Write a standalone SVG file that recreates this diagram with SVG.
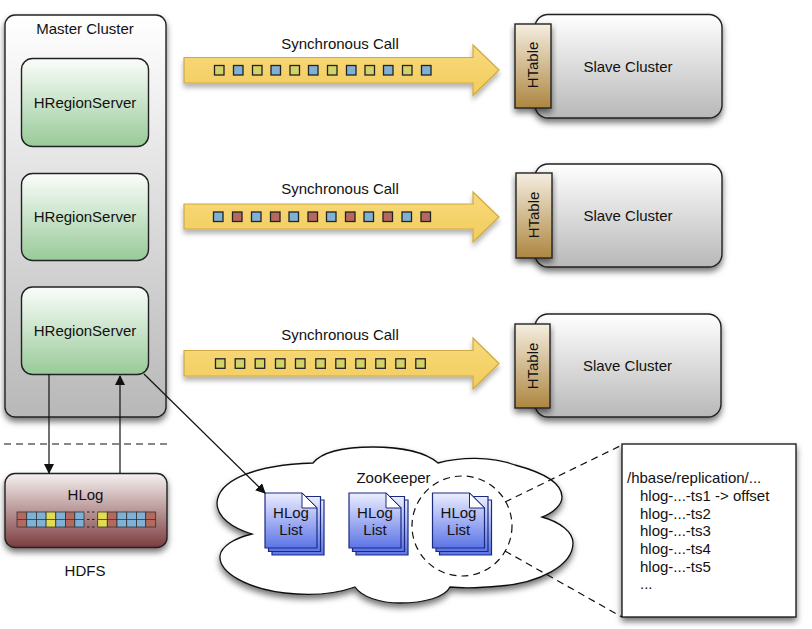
<svg xmlns="http://www.w3.org/2000/svg" xmlns:xlink="http://www.w3.org/1999/xlink" width="812" height="629" viewBox="0 0 812 629">
<style>
text{font-family:"Liberation Sans",Arial,sans-serif;font-size:15px;fill:#111;text-anchor:middle}
.s{text-anchor:start}
.b{stroke:#222;stroke-width:1.4}
.sh{filter:url(#shadow)}
.ln{fill:none;stroke:#111;stroke-width:1.2}
.dash{fill:none;stroke:#111;stroke-width:1.2;stroke-dasharray:7 5}
.ar{fill:url(#gArrow);stroke:#d0a93f;stroke-width:1.2;filter:url(#shadow2)}
.y{fill:#d3d268;stroke:#222;stroke-width:1.3}
.u{fill:#7fb1d6;stroke:#222;stroke-width:1.3}
.r{fill:#b5695e;stroke:#222;stroke-width:1.3}
.cl{stroke:#333;stroke-width:.8}
.ge{fill:#e3dc50}
.gu{fill:#7fb1d6}
.gr{fill:#b5695e}
.doc{fill:url(#gDoc);stroke:#1a2a80;stroke-width:1.2}
.fold{fill:#fff;stroke:#1a2a80;stroke-width:1}
</style>
<defs>
<filter id="shadow" x="-15%" y="-15%" width="130%" height="135%"><feDropShadow dx="0" dy="4" stdDeviation="3" flood-color="#000" flood-opacity=".55"/></filter>
<filter id="shadow2" x="-5%" y="-15%" width="110%" height="140%"><feDropShadow dx="0" dy="4" stdDeviation="2.5" flood-color="#000" flood-opacity=".3"/></filter>
<linearGradient id="gGray" x1="0" y1="0" x2="0" y2="1"><stop offset="0" stop-color="#fff"/><stop offset="1" stop-color="#b8b8b8"/></linearGradient>
<linearGradient id="gGreen" x1="0" y1="0" x2="0" y2="1"><stop offset="0" stop-color="#fbfdfb"/><stop offset="1" stop-color="#98ca98"/></linearGradient>
<linearGradient id="gHlog" x1="0" y1="0" x2="0" y2="1"><stop offset="0" stop-color="#f6f1f1"/><stop offset="1" stop-color="#7c3c3e"/></linearGradient>
<linearGradient id="gTable" x1="0" y1="0" x2="0" y2="1"><stop offset="0" stop-color="#f5eee0"/><stop offset="1" stop-color="#ad8640"/></linearGradient>
<linearGradient id="gArrow" x1="0" y1="0" x2="0" y2="1"><stop offset="0" stop-color="#f8da7c"/><stop offset="1" stop-color="#f2cc5c"/></linearGradient>
<linearGradient id="gDoc" x1="0" y1="0" x2="0" y2="1"><stop offset="0" stop-color="#eceeff"/><stop offset="1" stop-color="#5c74e6"/></linearGradient>
<marker id="tip" markerUnits="userSpaceOnUse" markerWidth="10" markerHeight="12" refX="9" refY="5" orient="auto"><path d="M0 0L10 5L0 10Z" fill="#111"/></marker>
<g id="c1"><rect x="-4.500" y="-4.500" width="9.500" height="9.500"/></g>
<g id="dc"><path class="doc" d="M7 7H59V62H7Z"/><path class="doc" d="M3.500 3.500H55.500V58.500H3.500Z"/><path class="doc" d="M0 0H37L52 15V55H0Z"/><path class="fold" d="M37 0V15H52Z"/></g>
</defs>

<g id="master-cluster"><rect class="b sh" x="5" y="15" width="161" height="402" rx="10" fill="url(#gGray)"/><text x="85" y="34">Master Cluster</text></g>
<g id="hrs-1"><rect class="b" x="21.500" y="58.500" width="127" height="88" rx="11" fill="url(#gGreen)"/><text x="85" y="108">HRegionServer</text></g>
<g id="hrs-2"><rect class="b" x="21.500" y="173.500" width="127" height="87" rx="11" fill="url(#gGreen)"/><text x="85" y="222">HRegionServer</text></g>
<g id="hrs-3"><rect class="b" x="21.500" y="287" width="127" height="87.500" rx="11" fill="url(#gGreen)"/><text x="85" y="335.500">HRegionServer</text></g>

<g id="call-1">
<text x="340" y="48.500">Synchronous Call</text>
<path class="ar" d="M184 57.500H473V45L499 70L473 95.500V83H184Z"/>
<g transform="translate(0,70)"><use href="#c1" x="219" class="y"/><use href="#c1" x="238" class="u"/><use href="#c1" x="257" class="y"/><use href="#c1" x="275.500" class="u"/><use href="#c1" x="294.500" class="y"/><use href="#c1" x="313" class="u"/><use href="#c1" x="332" class="y"/><use href="#c1" x="351" class="u"/><use href="#c1" x="369.500" class="y"/><use href="#c1" x="388" class="u"/><use href="#c1" x="407" class="y"/><use href="#c1" x="426" class="u"/></g>
</g>
<g id="call-2">
<text x="340" y="193.500">Synchronous Call</text>
<path class="ar" d="M184 204H473V192L499 217L473 242V229H184Z"/>
<g transform="translate(0,216.500)"><use href="#c1" x="218" class="u"/><use href="#c1" x="237" class="r"/><use href="#c1" x="256" class="u"/><use href="#c1" x="275" class="r"/><use href="#c1" x="293.500" class="u"/><use href="#c1" x="312.500" class="r"/><use href="#c1" x="331" class="u"/><use href="#c1" x="350" class="r"/><use href="#c1" x="368.500" class="u"/><use href="#c1" x="387.500" class="r"/><use href="#c1" x="406.500" class="u"/><use href="#c1" x="425.500" class="r"/></g>
</g>
<g id="call-3">
<text x="340" y="339.500">Synchronous Call</text>
<path class="ar" d="M184 350.500H473V338L499 363.500L473 389V376H184Z"/>
<g transform="translate(0,363.300)"><use href="#c1" x="220" class="y"/><use href="#c1" x="239.700" class="y"/><use href="#c1" x="259.700" class="y"/><use href="#c1" x="280" class="y"/><use href="#c1" x="300" class="y"/><use href="#c1" x="320.300" class="y"/><use href="#c1" x="340.300" class="y"/><use href="#c1" x="360.300" class="y"/><use href="#c1" x="380.300" class="y"/><use href="#c1" x="400.300" class="y"/><use href="#c1" x="420.300" class="y"/></g>
</g>

<g id="slave-1"><rect class="b sh" x="535" y="14.500" width="187" height="103.500" rx="13" fill="url(#gGray)"/><rect class="b sh" x="515" y="24" width="36" height="84" fill="url(#gTable)"/><text x="628" y="71.500">Slave Cluster</text><text transform="translate(537.500,65) rotate(-90)">HTable</text></g>
<g id="slave-2"><rect class="b sh" x="535" y="164" width="187" height="103" rx="13" fill="url(#gGray)"/><rect class="b sh" x="516" y="173" width="36" height="85" fill="url(#gTable)"/><text x="628" y="220.500">Slave Cluster</text><text transform="translate(538.500,215) rotate(-90)">HTable</text></g>
<g id="slave-3"><rect class="b sh" x="535" y="314" width="186" height="103" rx="13" fill="url(#gGray)"/><rect class="b sh" x="515" y="324" width="35" height="84" fill="url(#gTable)"/><text x="627.500" y="371">Slave Cluster</text><text transform="translate(537.500,366) rotate(-90)">HTable</text></g>

<g id="hlog">
<rect class="b sh" x="5" y="473.500" width="162" height="74" rx="10" fill="url(#gHlog)"/>
<text x="85.500" y="500">HLog</text>
<g class="cl">
<rect class="gr" x="17" y="512" width="9.700" height="15"/>
<rect class="gu" x="26.700" y="512" width="9.700" height="15"/><rect class="gu" x="36.400" y="512" width="9.700" height="15"/>
<rect class="ge" x="46.100" y="512" width="9.700" height="15"/><rect class="gu" x="55.800" y="512" width="9.700" height="15"/>
<rect class="gr" x="65.500" y="512" width="9.300" height="15"/><rect class="gu" x="74.800" y="512" width="9.200" height="15"/>
<rect class="ge" x="97.700" y="512" width="9.600" height="15"/><rect class="gr" x="107.300" y="512" width="9.700" height="15"/>
<rect class="gu" x="117" y="512" width="9.700" height="15"/><rect class="gu" x="126.700" y="512" width="9.700" height="15"/>
<rect class="gu" x="136.400" y="512" width="9.300" height="15"/><rect class="gr" x="145.700" y="512" width="10" height="15"/>
<path fill="none" d="M17 519.500H84M97.700 519.500H155.700"/>
</g>
<path d="M87 512H97M87 519.500H97M87 527H97" fill="none" stroke="#222" stroke-dasharray="2.500 2.500"/>
<text x="85" y="576">HDFS</text>
</g>

<g id="zookeeper">
<path class="sh" fill="#fff" stroke="#111" stroke-width="1.300" d="M252 534C232 528 217 517 217 503C218 482 250 465 313 463C322 452 345 447 373 447C400 447 425 452 438 463C460 457 490 456 515 465C545 473 562 484 562 497C562 505 553 513 542 517C560 522 573 532 573 543C573 565 540 583 500 586C480 588 460 588 450 587C445 597 425 603 400 603C380 603 362 597 355 587C335 594 310 596 285 593C245 588 219 572 220 556C221 546 235 538 252 534Z"/>
<text x="393.500" y="482.500">ZooKeeper</text>
<g id="list-1"><use href="#dc" x="265" y="493"/><text x="291" y="518">HLog</text><text x="291" y="535">List</text></g>
<g id="list-2"><use href="#dc" x="349" y="493"/><text x="375" y="518">HLog</text><text x="375" y="535">List</text></g>
<g id="list-3"><use href="#dc" x="432.500" y="493"/><text x="458.500" y="518">HLog</text><text x="458.500" y="535">List</text></g>
<circle class="dash" cx="462" cy="526" r="50"/>
</g>

<g id="detail"><rect class="sh" x="622" y="444" width="174" height="173" fill="#fff" stroke="#111" stroke-width="1.300"/>
<text class="s" x="627" y="483">/hbase/replication/...</text>
<text class="s" x="640" y="501">hlog-...-ts1 -&gt; offset</text>
<text class="s" x="640" y="518.500">hlog-...-ts2</text>
<text class="s" x="640" y="536">hlog-...-ts3</text>
<text class="s" x="640" y="554">hlog-...-ts4</text>
<text class="s" x="640" y="571.500">hlog-...-ts5</text>
<text class="s" x="640" y="589">...</text>
</g>

<g id="connectors">
<path class="dash" d="M4 444H167"/>
<path class="ln" d="M49 374V473" marker-end="url(#tip)"/>
<path class="ln" d="M120 473V376" marker-end="url(#tip)"/>
<path class="ln" d="M144 374L265 493" marker-end="url(#tip)"/>
<path class="dash" d="M505 502L622 445"/>
<path class="dash" d="M505 551L622 617"/>
</g>
</svg>
